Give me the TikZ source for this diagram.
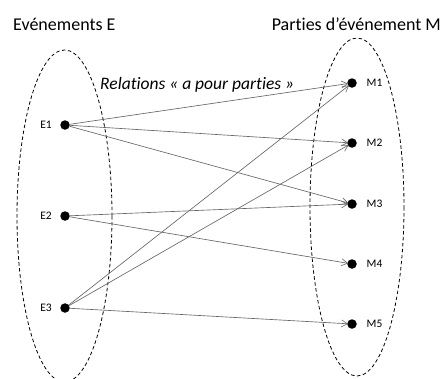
\documentclass[tikz,border=0pt]{standalone}
\usepackage{fontspec}
\setmainfont[Ligatures=CommonOff]{Carlito}
\usetikzlibrary{arrows.meta}
\begin{document}
\begin{tikzpicture}[x=1pt,y=-1pt,
  dot/.style={circle,fill=black,inner sep=0pt,minimum size=9.5pt},
  rel/.style={draw=black!60,line width=0.65pt,-{Straight Barb[length=6pt,width=7pt,line width=0.6pt]},shorten >=-1pt},
  grp/.style={draw=black,dashed,line width=0.8pt,dash pattern=on 3.5pt off 2.5pt},
  lab/.style={font=\fontsize{11.5}{13}\selectfont,inner sep=0pt},
  head/.style={font=\fontsize{18}{21}\selectfont,inner sep=0pt}]
\useasboundingbox (0,0) rectangle (445,378);
\draw[grp] (64.5,216) ellipse [x radius=47.5, y radius=166];
\draw[grp] (357,207) ellipse [x radius=47, y radius=169];
\node[head,anchor=west] (he) at (13,24) {Evénements E};
\node[head,anchor=east] (hm) at (441,24) {Parties d’événement M};
\node[head,anchor=west,font=\fontsize{17.5}{21}\selectfont\itshape] (hr) at (100,85) {Relations « a pour parties »};
\node[dot] (e1) at (65,125) {};
\node[dot] (e2) at (65,216) {};
\node[dot] (e3) at (65,308) {};
\node[dot] (m1) at (352,83) {};
\node[dot] (m2) at (352,143) {};
\node[dot] (m3) at (352,204) {};
\node[dot] (m4) at (352,264) {};
\node[dot] (m5) at (352,324) {};
\foreach \n in {1,2,3}{\node[lab,anchor=east] (le\n) at ([xshift=-13pt]e\n.center) {E\n};}
\foreach \n in {1,...,5}{\node[lab,anchor=west] (lm\n) at ([xshift=14.5pt]m\n.center) {M\n};}
\draw[rel] (e1) -- (m1);
\draw[rel] (e1) -- (m2);
\draw[rel] (e1) -- (m3);
\draw[rel] (e2) -- (m3);
\draw[rel] (e2) -- (m4);
\draw[rel] (e3) -- (m1);
\draw[rel] (e3) -- (m2);
\draw[rel] (e3) -- (m5);
\end{tikzpicture}
\end{document}
